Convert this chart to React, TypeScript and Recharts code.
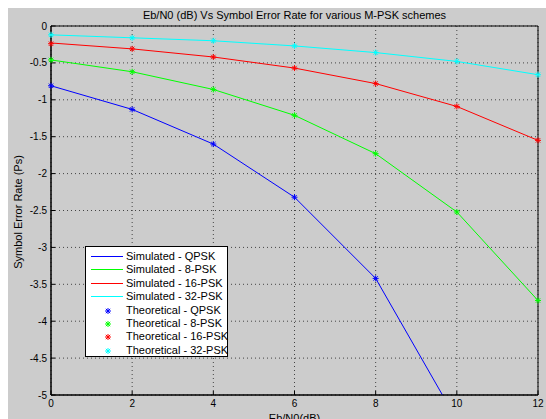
import React from 'react';
import { LineChart, Line, XAxis, YAxis, CartesianGrid, ReferenceArea } from 'recharts';

// Eb/N0 points (dB)
const ebN0 = [0, 2, 4, 6, 8, 10, 12];

// log10 of symbol error rate
const simQpsk = [-0.81, -1.13, -1.6, -2.32, -3.42, -5.34, -7.7];
const sim8psk = [-0.46, -0.62, -0.86, -1.21, -1.73, -2.52, -3.72];
const sim16psk = [-0.23, -0.31, -0.42, -0.57, -0.78, -1.09, -1.55];
const sim32psk = [-0.12, -0.16, -0.2, -0.27, -0.36, -0.48, -0.66];

// theoretical markers (QPSK at 10 and 12 dB fall below the plotted range)
const thQpsk = [-0.81, -1.13, -1.6, -2.32, -3.42, null, null];
const th8psk = [-0.46, -0.62, -0.86, -1.21, -1.73, -2.52, -3.72];
const th16psk = [-0.24, -0.31, -0.42, -0.57, -0.78, -1.09, -1.55];
const th32psk = [-0.12, -0.16, -0.2, -0.27, -0.36, -0.48, -0.66];

const xTicks = [0, 2, 4, 6, 8, 10, 12];
const yTicks = [0, -0.5, -1, -1.5, -2, -2.5, -3, -3.5, -4, -4.5, -5];

const series = [
  { key: 'simQ', label: 'Simulated - QPSK', color: '#0000ff', values: simQpsk, sim: true },
  { key: 'sim8', label: 'Simulated - 8-PSK', color: '#00ff00', values: sim8psk, sim: true },
  { key: 'sim16', label: 'Simulated - 16-PSK', color: '#ff0000', values: sim16psk, sim: true },
  { key: 'sim32', label: 'Simulated - 32-PSK', color: '#00ffff', values: sim32psk, sim: true },
  { key: 'thQ', label: 'Theoretical - QPSK', color: '#0000ff', values: thQpsk, sim: false },
  { key: 'th8', label: 'Theoretical - 8-PSK', color: '#00ff00', values: th8psk, sim: false },
  { key: 'th16', label: 'Theoretical - 16-PSK', color: '#ff0000', values: th16psk, sim: false },
  { key: 'th32', label: 'Theoretical - 32-PSK', color: '#00ffff', values: th32psk, sim: false },
];

const data = ebN0.map((x, i) => {
  const row: any = { x };
  series.forEach(s => { row[s.key] = s.values[i]; });
  return row;
});

const font = '"Liberation Sans", Arial, sans-serif';
const tickStyle = { fontSize: 10, fill: '#000', fontFamily: font };

const Star = (props: any) => {
  const { cx, cy, color, index } = props;
  if (cx == null || cy == null || isNaN(cy)) return <g key={index} />;
  const r = 3;
  const d = 2.2;
  return (
    <g key={index} stroke={color} strokeWidth={1}>
      <line x1={cx - r} y1={cy} x2={cx + r} y2={cy} />
      <line x1={cx} y1={cy - r} x2={cx} y2={cy + r} />
      <line x1={cx - d} y1={cy - d} x2={cx + d} y2={cy + d} />
      <line x1={cx - d} y1={cy + d} x2={cx + d} y2={cy - d} />
    </g>
  );
};

export default function App() {
  return (
    <div style={{ position: 'relative', width: 546, height: 419, background: '#fff', overflow: 'hidden' }}>
      <style>{'body { margin: 0; }'}</style>
      <div style={{ position: 'absolute', left: 8, top: 8, width: 538, height: 411, background: '#cccccc', overflow: 'hidden', fontFamily: font }}>
        <div style={{ position: 'absolute', left: 43, width: 487, top: 1, textAlign: 'center', fontSize: 11 }}>
          Eb/N0 (dB) Vs Symbol Error Rate for various M-PSK schemes
        </div>
        <div style={{ position: 'absolute', left: 43, width: 487, top: 404, textAlign: 'center', fontSize: 11 }}>
          Eb/N0(dB)
        </div>
        <div style={{ position: 'absolute', left: 10, top: 204, width: 0, height: 0 }}>
          <div style={{ position: 'absolute', transform: 'translate(-50%, -50%) rotate(-90deg)', whiteSpace: 'nowrap', fontSize: 11 }}>
            Symbol Error Rate (Ps)
          </div>
        </div>
        <LineChart width={538} height={411} data={data} margin={{ top: 18, right: 8, left: 0, bottom: 0 }}>
          <CartesianGrid stroke="#444" strokeDasharray="1 3" />
          <XAxis dataKey="x" type="number" domain={[0, 12]} ticks={xTicks} height={24}
            tick={tickStyle} tickSize={-4} tickMargin={9} stroke="#000" />
          <XAxis xAxisId="top" orientation="top" type="number" domain={[0, 12]} ticks={xTicks} height={0}
            tickFormatter={() => ''} tickSize={4} stroke="#000" />
          <YAxis type="number" domain={[-5, 0]} ticks={yTicks} width={43}
            tick={tickStyle} tickSize={-4} tickMargin={8} stroke="#000" allowDataOverflow />
          <YAxis yAxisId="right" orientation="right" type="number" domain={[-5, 0]} ticks={yTicks} width={0}
            tickFormatter={() => ''} tickSize={4} stroke="#000" />
          <ReferenceArea x1={0} x2={12} y1={-5} y2={0} fill="none" stroke="#000" strokeWidth={1} />
          {series.map(s => s.sim ? (
            <Line key={s.key} dataKey={s.key} stroke={s.color} strokeWidth={1} dot={false}
              type="linear" isAnimationActive={false} />
          ) : (
            <Line key={s.key} yAxisId="right" dataKey={s.key} stroke="none" strokeWidth={0} type="linear"
              dot={(p: any) => <Star {...p} key={p.index} color={s.color} />}
              activeDot={false} isAnimationActive={false} />
          ))}
        </LineChart>
        <div style={{
          position: 'absolute', left: 77, top: 238, width: 141, height: 109,
          background: '#fff', border: '1px solid #000', fontSize: 11,
        }}>
          {series.map((s, i) => (
            <div key={s.key} style={{ position: 'absolute', left: 0, top: 3 + i * 13.4, height: 13, width: 141 }}>
              {s.sim ? (
                <div style={{ position: 'absolute', left: 5, top: 6, width: 32, height: 1, background: s.color }} />
              ) : (
                <svg style={{ position: 'absolute', left: 17, top: 2 }} width={10} height={10}>
                  <Star cx={5} cy={5} color={s.color} index={0} />
                </svg>
              )}
              <div style={{ position: 'absolute', left: 40, top: 0, whiteSpace: 'nowrap', lineHeight: '13px' }}>{s.label}</div>
            </div>
          ))}
        </div>
      </div>
    </div>
  );
}
